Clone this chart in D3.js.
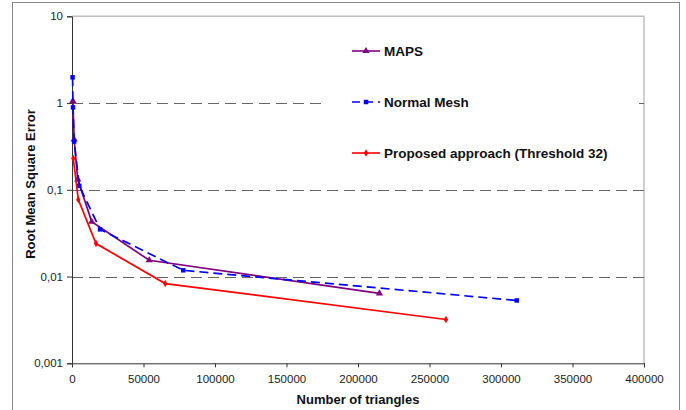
<!DOCTYPE html>
<html>
<head>
<meta charset="utf-8">
<script src="https://cdn.jsdelivr.net/npm/d3@7"></script>
<style>
  body { margin: 0; background: #fff; }
  text { font-family: "Liberation Sans", Arial, sans-serif; }
</style>
</head>
<body>
<script>
  // data
  const mapsX = [600, 1500, 4000, 13750, 54000, 215000];
  const mapsY = [1.06, 0.38, 0.132, 0.043, 0.0154, 0.0064];

  const normalX = [400, 700, 1500, 5100, 19600, 77800, 311000];
  const normalY = [1.98, 0.89, 0.36, 0.111, 0.035, 0.0118, 0.0053];

  const proposedX = [900, 4400, 16800, 65200, 261500];
  const proposedY = [0.23, 0.077, 0.024, 0.0083, 0.0032];

  const xTicks = [0, 50000, 100000, 150000, 200000, 250000, 300000, 350000, 400000];
  const yTicks = [0.001, 0.01, 0.1, 1, 10];
  const yTickLabels = ['0,001', '0,01', '0,1', '1', '10'];

  const seriesNames = ['MAPS', 'Normal Mesh', 'Proposed approach (Threshold 32)'];

  const width = 686;
  const height = 410;

  const svg = d3.select('body')
          .append('svg')
          .attr('width', width)
          .attr('height', height);

  // outer frame of the chart
  svg.append('rect')
          .attr('x', 12.5).attr('y', 2.5)
          .attr('width', 667).attr('height', 420)
          .attr('fill', 'none')
          .attr('stroke', '#888')
          .attr('stroke-width', 1);

  const x = d3.scaleLinear().domain([0, 400000]).range([72, 644]);
  const y = d3.scaleLog().domain([0.001, 10]).range([363.3, 16.3]);

  // plot area border (top and right, light gray)
  svg.append('path')
          .attr('d', `M${x(0)},${y(10)}H${x(400000)}V${y(0.001)}`)
          .attr('fill', 'none')
          .attr('stroke', '#c0c0c0')
          .attr('stroke-width', 1.5);

  // dashed gridlines
  svg.append('g')
          .selectAll('line')
          .data([0.01, 0.1, 1])
          .enter()
          .append('line')
          .attr('x1', x(0)).attr('x2', x(400000))
          .attr('y1', d => Math.round(y(d)) + 0.5)
          .attr('y2', d => Math.round(y(d)) + 0.5)
          .attr('stroke', '#666')
          .attr('stroke-width', 1)
          .attr('stroke-dasharray', '11,6');

  // axes
  const xAxis = d3.axisBottom(x)
          .tickValues(xTicks)
          .tickFormat(d3.format('d'))
          .tickSize(4)
          .tickPadding(5);
  const yAxis = d3.axisLeft(y)
          .tickValues(yTicks)
          .tickFormat((d, i) => yTickLabels[i])
          .tickSize(5)
          .tickPadding(4);

  const gx = svg.append('g')
          .attr('transform', `translate(0,${y(0.001)})`)
          .call(xAxis);
  const gy = svg.append('g')
          .attr('transform', `translate(${x(0)},0)`)
          .call(yAxis);

  [gx, gy].forEach(g => {
    g.select('.domain').attr('stroke', '#333');
    g.selectAll('.tick line').attr('stroke', '#333');
    g.selectAll('.tick text')
            .attr('fill', '#222')
            .style('font-size', '11.5px')
            .style('font-family', '"Liberation Sans", Arial, sans-serif');
  });
  gx.selectAll('.tick text').attr('dy', '0.9em');

  // axis titles
  svg.append('text')
          .attr('x', 358).attr('y', 404)
          .attr('text-anchor', 'middle')
          .style('font-size', '13px')
          .style('font-weight', 'bold')
          .attr('fill', '#111')
          .text('Number of triangles');

  svg.append('text')
          .attr('transform', 'translate(35,184) rotate(-90)')
          .attr('text-anchor', 'middle')
          .style('font-size', '13px')
          .style('font-weight', 'bold')
          .attr('fill', '#111')
          .text('Root Mean Square Error');

  const line = d3.line()
          .x(d => x(d[0]))
          .y(d => y(d[1]));

  const series = [
    { name: seriesNames[0], pts: d3.zip(mapsX, mapsY), color: '#800080', dash: null, marker: d3.symbolTriangle, size: 22 },
    { name: seriesNames[1], pts: d3.zip(normalX, normalY), color: '#0000ff', dash: '9,5', marker: d3.symbolSquare, size: 20 },
    { name: seriesNames[2], pts: d3.zip(proposedX, proposedY), color: '#ff0000', dash: null, marker: d3.symbolDiamond, size: 16 }
  ];

  // legend box (white, covers the gridline at 1)
  svg.append('rect')
          .attr('x', 326).attr('y', 28)
          .attr('width', 313).attr('height', 145)
          .attr('fill', '#fff');

  series.forEach(s => {
    svg.append('path')
            .datum(s.pts)
            .attr('d', line)
            .attr('fill', 'none')
            .attr('stroke', s.color)
            .attr('stroke-width', 1.7)
            .attr('stroke-dasharray', s.dash);

    svg.append('g')
            .selectAll('path')
            .data(s.pts)
            .enter()
            .append('path')
            .attr('transform', d => `translate(${x(d[0])},${y(d[1])})`)
            .attr('d', d3.symbol().type(s.marker).size(s.size))
            .attr('fill', s.color);
  });

  // legend entries
  const legendY = [51, 102, 153];
  series.forEach((s, i) => {
    const g = svg.append('g')
            .attr('transform', `translate(352,${legendY[i]})`);
    g.append('line')
            .attr('x1', 0).attr('x2', 28)
            .attr('stroke', s.color)
            .attr('stroke-width', 1.6)
            .attr('stroke-dasharray', s.dash ? '8,5' : null);
    g.append('path')
            .attr('transform', 'translate(14,0)')
            .attr('d', d3.symbol().type(s.marker).size(s.size))
            .attr('fill', s.color);
    g.append('text')
            .attr('x', 32).attr('y', 5)
            .style('font-size', '13.5px')
            .style('font-weight', 'bold')
            .attr('fill', '#111')
            .text(s.name);
  });
</script>
</body>
</html>
